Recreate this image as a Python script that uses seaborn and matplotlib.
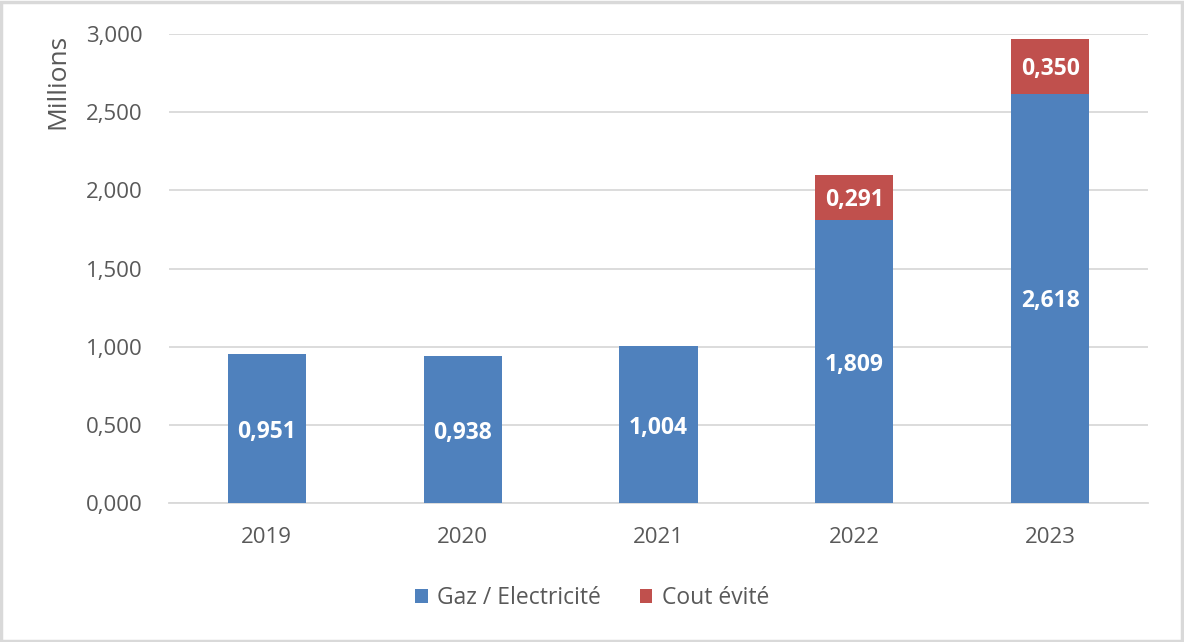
import matplotlib
matplotlib.use("Agg")
import matplotlib.pyplot as plt
import seaborn as sns
import pandas as pd
from matplotlib.patches import Patch, Rectangle
from matplotlib.ticker import FuncFormatter, MultipleLocator

years = ["2019", "2020", "2021", "2022", "2023"]
gaz = [0.951, 0.938, 1.004, 1.809, 2.618]
cout = [0.0, 0.0, 0.0, 0.291, 0.350]
series_names = ["Gaz / Electricité", "Cout évité"]
y_label = "Millions"

BLUE = "#4F81BD"
RED = "#C0504D"
TXT = "#595959"
GRID = "#D9D9D9"

sns.set_theme(style="white")
plt.rcParams["font.family"] = ["Open Sans", "DejaVu Sans"]

df = pd.DataFrame({"year": years, "gaz": gaz, "cout": cout})
df["total"] = df["gaz"] + df["cout"]

fig = plt.figure(figsize=(11.84, 6.42), dpi=100)
ax = fig.add_axes([0.1427, 0.2165, 0.8269, 0.7305])

sns.barplot(data=df, x="year", y="total", color=RED, saturation=1, width=0.40,
            ax=ax, edgecolor="none", zorder=2)
sns.barplot(data=df, x="year", y="gaz", color=BLUE, saturation=1, width=0.40,
            ax=ax, edgecolor="none", zorder=3)

fmt = lambda v: f"{v:.3f}".replace(".", ",")
for i, (g, c) in enumerate(zip(gaz, cout)):
    ax.text(i, g / 2, fmt(g), ha="center", va="center_baseline", color="white",
            fontsize=16.5, fontweight="bold", zorder=5)
    if c > 0:
        ax.text(i, g + c / 2, fmt(c), ha="center", va="center_baseline", color="white",
                fontsize=16.5, fontweight="bold", zorder=5)

ax.set_xlim(-0.5, 4.5)
ax.set_ylim(0, 3.0)
ax.yaxis.set_major_locator(MultipleLocator(0.5))
ax.yaxis.set_major_formatter(FuncFormatter(lambda v, p: f"{v:.3f}".replace(".", ",")))
ax.grid(axis="y", color=GRID, linewidth=1.3, zorder=0)
ax.set_axisbelow(True)
for s in ["top", "right", "left"]:
    ax.spines[s].set_visible(False)
ax.spines["bottom"].set_color(GRID)
ax.spines["bottom"].set_linewidth(1.3)
ax.tick_params(axis="both", length=0, labelsize=16, colors=TXT)
ax.tick_params(axis="y", pad=19)
ax.tick_params(axis="x", pad=17)
ax.set_xlabel("")
ax.set_ylabel("")
fig.text(58 / 1184, 1 - 34 / 642, y_label, rotation=90, ha="center", va="top",
         fontsize=19, color=TXT)

handles = [Patch(facecolor=BLUE, edgecolor="none"), Patch(facecolor=RED, edgecolor="none")]
fig.legend(handles, series_names, loc="center", bbox_to_anchor=(0.5, 0.068),
           ncol=2, frameon=False, fontsize=16.5, labelcolor=TXT,
           handlelength=0.55, handleheight=0.55, handletextpad=0.4, columnspacing=1.7)

fig.patches.append(Rectangle((0.001, 0.002), 0.997, 0.995, transform=fig.transFigure,
                             fill=False, edgecolor=GRID, linewidth=2.5))

fig.savefig("out.png", dpi=100, facecolor="white")
